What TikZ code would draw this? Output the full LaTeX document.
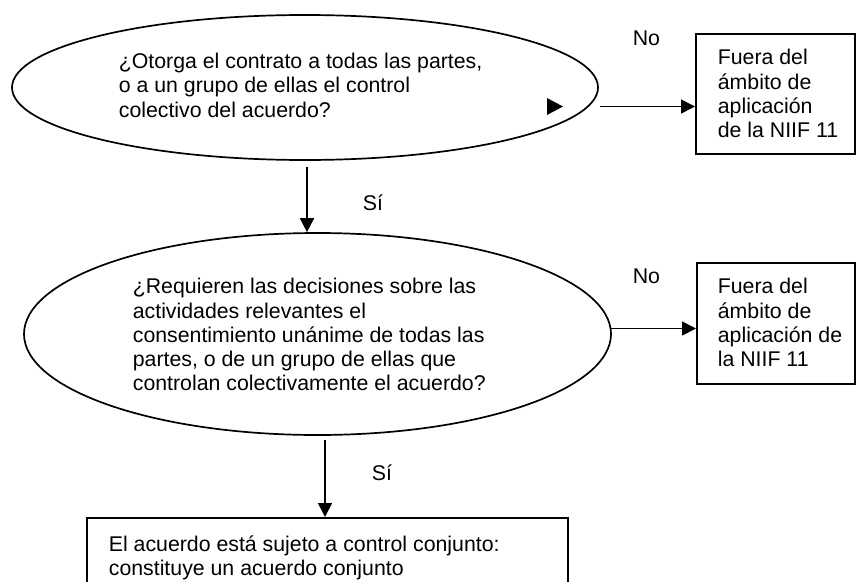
\documentclass[tikz,border=0pt]{standalone}
\usepackage{fontspec}
\setmainfont{Liberation Sans}
\usetikzlibrary{shapes.geometric,arrows.meta}
\begin{document}
\begin{tikzpicture}[x=1pt,y=-1pt,
  line width=1.7pt,
  every node/.style={font=\fontsize{21.3}{24.2}\selectfont, inner sep=0pt},
  qshape/.style={ellipse, draw},
  boxshape/.style={rectangle, draw, anchor=north west},
  txt/.style={align=left, anchor=north west},
  lbl/.style={anchor=base west},
  arr/.style={-{Triangle[length=14pt,width=14pt]}}
]
\useasboundingbox (0,0) rectangle (856,581);

% shapes
\node[qshape, minimum width=586pt, minimum height=145pt] (q1) at (305,87.5) {};
\node[qshape, minimum width=587pt, minimum height=202pt] (q2) at (317.5,334) {};
\node[boxshape, minimum width=159pt, minimum height=120pt] (b1) at (695,33) {};
\node[boxshape, minimum width=158pt, minimum height=121pt] (b2) at (696,262) {};
\node[boxshape, minimum width=481pt, minimum height=100pt] (b3) at (86,517) {};

% texts
\node[txt] (q1t) at (118,52.5) {¿Otorga el contrato a todas las partes,\\o a un grupo de ellas el control\\colectivo del acuerdo?};
\node[txt] (q2t) at (132,277.7) {¿Requieren las decisiones sobre las\\actividades relevantes el\\consentimiento unánime de todas las\\partes, o de un grupo de ellas que\\controlan colectivamente el acuerdo?};
\node[txt] (b1t) at (717,48.7) {Fuera del\\ámbito de\\aplicación\\de la NIIF 11};
\node[txt] (b2t) at (717,277.7) {Fuera del\\ámbito de\\aplicación de\\la NIIF 11};
\node[txt] (b3t) at (108,534.7) {El acuerdo está sujeto a control conjunto:\\constituye un acuerdo conjunto};

% labels
\node[lbl] (no1) at (632,45) {No};
\node[lbl] (no2) at (632,283) {No};
\node[lbl] (si1) at (362,210) {Sí};
\node[lbl] (si2) at (371,480) {Sí};

% marker inside first ellipse
\fill (547,98) -- (563,106.5) -- (547,115) -- cycle;

% connectors
\coordinate (c1) at (600,106.5);
\draw[arr] (c1) -- (c1 -| b1.west);
\coordinate (c2) at (307,167);
\draw[arr] (c2) -- (c2 |- q2.north);
\coordinate (c3) at (611,328.5);
\draw[arr] (c3) -- (c3 -| b2.west);
\coordinate (c4) at (325,440);
\draw[arr] (c4) -- (c4 |- b3.north);
\end{tikzpicture}
\end{document}
